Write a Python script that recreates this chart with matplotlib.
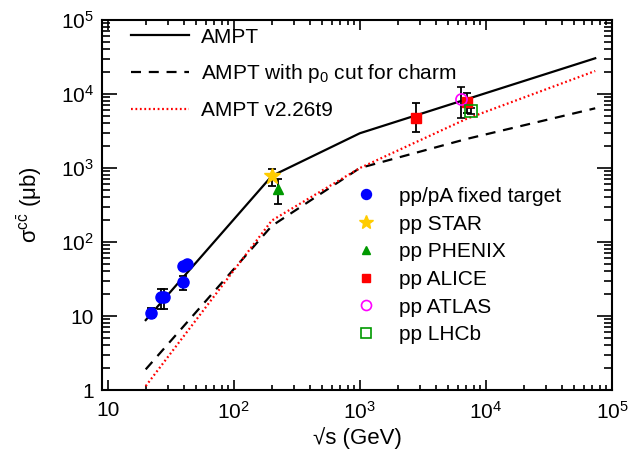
import numpy as np
import matplotlib.pyplot as plt
from matplotlib.ticker import FixedLocator, FixedFormatter, LogLocator, NullFormatter

plt.rcParams['font.family'] = ['Liberation Sans', 'DejaVu Sans']
plt.rcParams['mathtext.fontset'] = 'custom'
plt.rcParams['mathtext.rm'] = 'Liberation Sans'
plt.rcParams['mathtext.it'] = 'Liberation Sans:italic'

# AMPT curves (sqrt(s) in GeV, sigma in mub)
s_ampt = [20, 200, 1000, 73600]
sig_ampt = [8.8, 780, 2950, 30400]
s_p0 = [20, 200, 1000, 7000, 73600]
sig_p0 = [1.9, 165, 1000, 2465, 6410]
s_v226 = [20, 200, 1000, 7000, 73600]
sig_v226 = [1.13, 195, 1000, 4610, 20460]

# data
s_fixed = [22.0, 26.3, 27.9, 39.3, 39.7, 42.7]
sig_fixed = [11.1, 17.9, 17.9, 28.5, 47.4, 50.4]
err_fixed = [1.7, 5.5, 5.5, 6.0, 2.0, 2.0]
s_star, sig_star, err_star = [200], [780], [200]
s_phenix, sig_phenix, err_phenix = [225], [520], [190]
s_alice = [2780, 7050]
sig_alice = [4800, 7870]
err_alice = [[1700, 2300], [2800, 2300]]
s_atlas, sig_atlas, err_atlas = [6350], [8480], [[3800], [3800]]
s_lhcb, sig_lhcb, err_lhcb = [7640], [5950], [600]

data_labels = ['pp/pA fixed target', 'pp STAR', 'pp PHENIX', 'pp ALICE', 'pp ATLAS', 'pp LHCb']

fig = plt.figure(figsize=(6.42, 4.55), dpi=100)
ax = fig.add_axes([102/642, 65/455, 510/642, 370/455])
ax.set_xscale('log')
ax.set_yscale('log')

l1, = ax.plot(s_ampt, sig_ampt, color='black', lw=1.6, label='AMPT')
l2, = ax.plot(s_p0, sig_p0, color='black', lw=1.6, ls=(0, (4.5, 3.5)),
              label='AMPT with p$_0$ cut for charm')
l3, = ax.plot(s_v226, sig_v226, color='red', lw=1.6, ls=(0, (0.8, 1.2)),
              label='AMPT v2.26t9')

eb = dict(ecolor='black', elinewidth=1.3, capsize=3, capthick=1.3, ls='none')
p1 = ax.errorbar(s_fixed, sig_fixed, yerr=err_fixed, fmt='o', color='#0000ff', ms=8, **eb)
p2 = ax.errorbar(s_star, sig_star, yerr=err_star, fmt='*', color='#ffcc00', ms=12, **eb)
p3 = ax.errorbar(s_phenix, sig_phenix, yerr=err_phenix, fmt='^', color='#009900', ms=7, **eb)
p4 = ax.errorbar(s_alice, sig_alice, yerr=err_alice, fmt='s', color='#ff0000', ms=7, **eb)
p5 = ax.errorbar(s_atlas, sig_atlas, yerr=err_atlas, fmt='o', color='#ff00ff', mfc='none',
                 mew=1.2, ms=8, **eb)
p6 = ax.errorbar(s_lhcb, sig_lhcb, yerr=err_lhcb, fmt='s', color='#009900', mfc='none',
                 mew=1.2, ms=8, **eb)

ax.set_xlim(9.0, 1e5)
ax.set_ylim(1, 1e5)

ax.xaxis.set_major_locator(FixedLocator([10, 1e2, 1e3, 1e4, 1e5]))
ax.xaxis.set_major_formatter(FixedFormatter(['10', '$10^2$', '$10^3$', '$10^4$', '$10^5$']))
ax.yaxis.set_major_locator(FixedLocator([1, 10, 1e2, 1e3, 1e4, 1e5]))
ax.yaxis.set_major_formatter(FixedFormatter(['1', '10', '$10^2$', '$10^3$', '$10^4$', '$10^5$']))
ax.xaxis.set_minor_locator(LogLocator(base=10, subs=np.arange(2, 10), numticks=20))
ax.yaxis.set_minor_locator(LogLocator(base=10, subs=np.arange(2, 10), numticks=20))
ax.xaxis.set_minor_formatter(NullFormatter())
ax.yaxis.set_minor_formatter(NullFormatter())

ax.tick_params(which='both', direction='in', top=True, right=True, labelsize=15, width=1.2)
ax.tick_params(axis='x', which='major', length=7, pad=8)
ax.tick_params(axis='x', which='minor', length=3.6)
ax.tick_params(axis='y', which='major', length=11, pad=6)
ax.tick_params(axis='y', which='minor', length=6)
for sp in ax.spines.values():
    sp.set_linewidth(1.5)

ax.set_xlabel('√s (GeV)', fontsize=16, labelpad=3)
ax.set_ylabel(r'σ$^{\mathrm{c\bar{c}}}$ (μb)', fontsize=16, labelpad=12)

leg1 = ax.legend(handles=[l1, l2, l3], loc='upper left', bbox_to_anchor=(0.02, 1.03),
                 frameon=False, fontsize=15, handlelength=2.8, handletextpad=0.55,
                 labelspacing=0.75)
ax.add_artist(leg1)
ax.legend([p[0] for p in (p1, p2, p3, p4, p5, p6)], data_labels, loc='upper left',
          bbox_to_anchor=(0.46, 0.6), frameon=False, fontsize=15, handlelength=1.0,
          handletextpad=1.1, labelspacing=0.42, markerscale=0.9)

fig.savefig('out.png', dpi=100)
